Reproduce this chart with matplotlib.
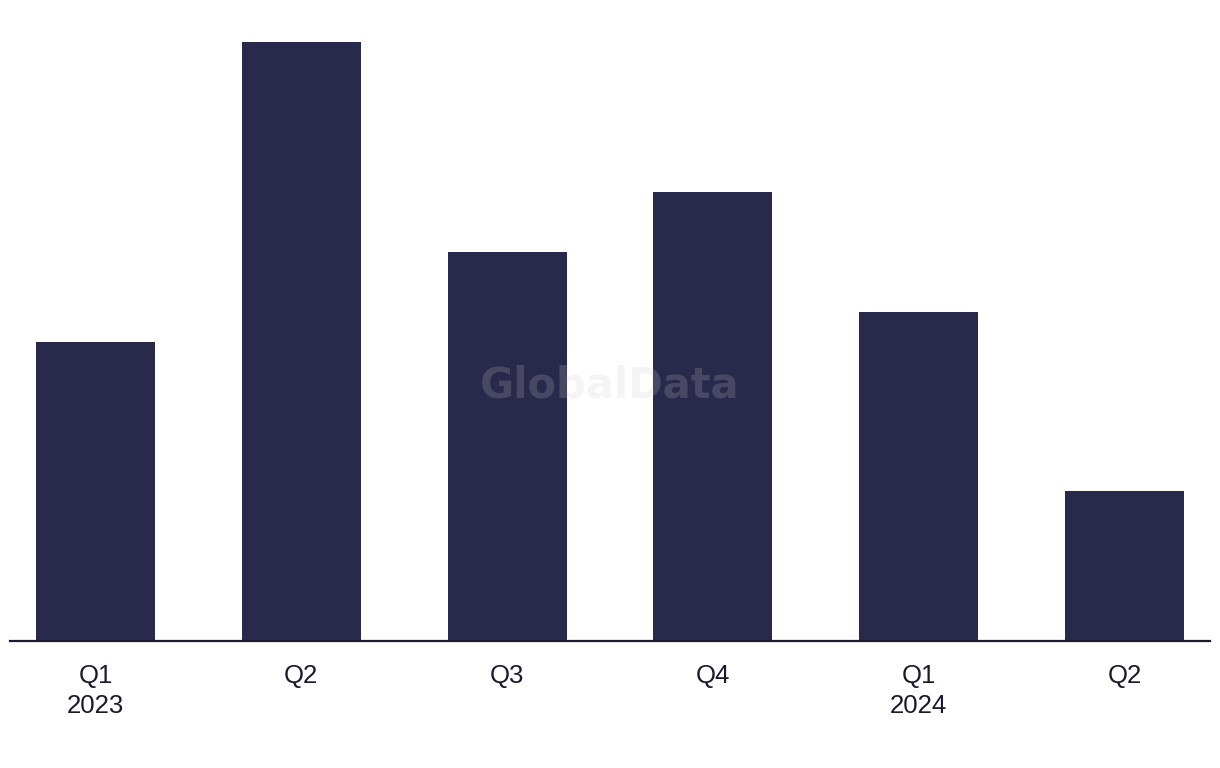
import numpy as np
import matplotlib.pyplot as plt

quarters = ["Q1\n2023", "Q2", "Q3", "Q4", "Q1\n2024", "Q2"]
deals = [10, 20, 13, 15, 11, 5]

bar_color = "#29294b"

fig = plt.figure(figsize=(12.2, 7.68), dpi=100)
ax = fig.add_axes([10 / 1220, 127 / 768, 1200 / 1220, 599 / 768])

x = np.arange(len(quarters))
ax.bar(x, deals, width=0.578, color=bar_color)

ax.set_xlim(-0.4155, len(quarters) - 1 + 0.4155)
ax.set_ylim(0, max(deals))
ax.set_xticks(x)
ax.set_xticklabels(quarters, fontsize=18.5, family="Liberation Sans",
                   color="#1a1a2e", linespacing=1.3)
ax.tick_params(axis="x", length=0, pad=16.5)
ax.set_yticks([])

for side in ["top", "right", "left"]:
    ax.spines[side].set_visible(False)
ax.spines["bottom"].set_linewidth(1.6)
ax.spines["bottom"].set_color("#1a1a2e")

fig.text(0.5, 1 - 385 / 768, "GlobalData", ha="center", va="center",
         fontsize=30, fontweight="bold", color="#c9c9d0", alpha=0.2)

fig.savefig("out.png", dpi=100)
